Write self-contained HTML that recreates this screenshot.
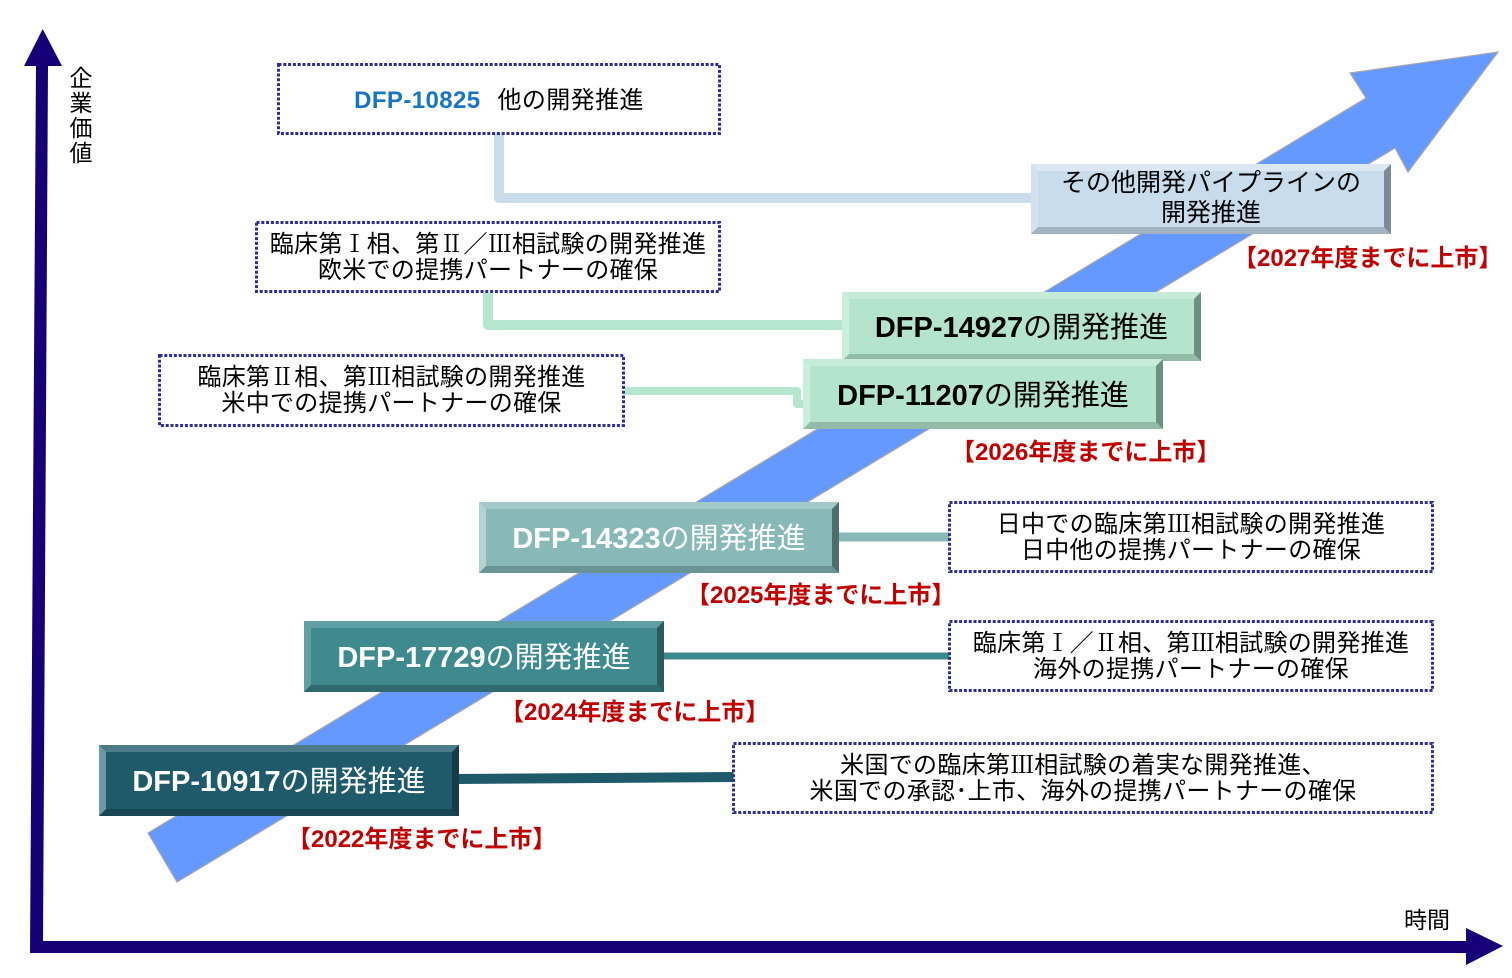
<!DOCTYPE html>
<html>
<head>
<meta charset="utf-8">
<style>
  html,body{margin:0;padding:0;background:#fff;}
  body{width:1512px;height:978px;position:relative;overflow:hidden;
       font-family:"Liberation Sans","Noto Sans CJK JP",sans-serif;}
  .abs{position:absolute;}
  .txt{position:absolute;display:flex;align-items:center;justify-content:center;
       text-align:center;white-space:nowrap;color:#000;}
  .dot{font-size:24px;line-height:26px;letter-spacing:0.3px;}
  .dot > div{margin-top:-2px;}
  .r{display:inline-block;width:24px;text-align:center;letter-spacing:0;
     font-family:"Noto Serif CJK SC","Noto Serif CJK JP","Liberation Serif",serif;}
  .bev{position:absolute;box-sizing:border-box;border-style:solid;border-width:7px;
       display:flex;align-items:center;justify-content:center;white-space:nowrap;
       font-size:29px;}
  .bev > div{margin-top:-3px;}
  .bev b{font-weight:bold;}
  .bev span{font-weight:normal;}
  .red{position:absolute;width:254px;text-align:center;color:#c00000;font-weight:bold;
       font-size:24px;line-height:30px;white-space:nowrap;}
</style>
</head>
<body>

<svg class="abs" style="left:0;top:0" width="1512" height="978" viewBox="0 0 1512 978">
  <!-- big blue arrow -->
  <polygon points="148,833 1366,98 1350,73 1498,52 1408,172 1395,148 177,882"
           fill="#6699ff" stroke="#a8a8a8" stroke-width="1.2" stroke-linejoin="miter"/>

  <!-- connectors -->
  <path d="M499,134 V198 H1034" fill="none" stroke="#c9dcec" stroke-width="10" stroke-linejoin="round"/>
  <path d="M488,293 V325 H845" fill="none" stroke="#b7e6cf" stroke-width="10" stroke-linejoin="round"/>
  <path d="M625,391 H797 V404 H805" fill="none" stroke="#b7e6cf" stroke-width="8" stroke-linejoin="round"/>
  <path d="M837,537 H950" fill="none" stroke="#88b8b8" stroke-width="9"/>
  <path d="M662,656 H950" fill="none" stroke="#3e8a8e" stroke-width="7"/>
  <path d="M457,779 L734,777" fill="none" stroke="#1f5a6b" stroke-width="10"/>

  <!-- dotted boxes -->
  <g fill="#fff" stroke="#2e2e96" stroke-width="3" stroke-dasharray="3 1.8">
    <rect x="278.5" y="64.5" width="441" height="69"/>
    <rect x="256.5" y="222.5" width="463" height="69"/>
    <rect x="159.5" y="355.5" width="464" height="70"/>
    <rect x="949.5" y="502.5" width="483" height="69"/>
    <rect x="949.5" y="621.5" width="483" height="69"/>
    <rect x="733.5" y="743.5" width="699" height="69"/>
  </g>

  <!-- axes -->
  <g fill="#150078">
    <polygon points="36,66 48,66 43,941 1466,941 1466,953 30,953"/>
    <polygon points="42.7,29 24,66 62,66"/>
    <polygon points="1466,928 1503,946 1466,965"/>
  </g>
</svg>

<!-- axis labels -->
<div class="abs" style="left:69px;top:66px;width:24px;font-size:23px;line-height:25px;text-align:center;color:#000;">企<br>業<br>価<br>値</div>
<div class="abs" style="left:1404px;top:906px;font-size:23px;line-height:28px;color:#000;white-space:nowrap;">時間</div>

<!-- dotted box texts -->
<div class="txt" style="left:277px;top:63px;width:444px;height:71px;font-size:24px;letter-spacing:0.4px;">
  <div style="margin-top:-3px"><span style="color:#1a74c6;font-weight:bold;">DFP-10825</span><span style="display:inline-block;width:17px"></span><span>他の開発推進</span></div>
</div>
<div class="txt dot" style="left:255px;top:221px;width:466px;height:72px;"><div>臨床第<span class="r">Ⅰ</span>相、第<span class="r">Ⅱ</span>／<span class="r">Ⅲ</span>相試験の開発推進<br>欧米での提携パートナーの確保</div></div>
<div class="txt dot" style="left:158px;top:354px;width:467px;height:73px;"><div>臨床第<span class="r">Ⅱ</span>相、第<span class="r">Ⅲ</span>相試験の開発推進<br>米中での提携パートナーの確保</div></div>
<div class="txt dot" style="left:948px;top:501px;width:486px;height:72px;"><div>日中での臨床第<span class="r">Ⅲ</span>相試験の開発推進<br>日中他の提携パートナーの確保</div></div>
<div class="txt dot" style="left:948px;top:620px;width:486px;height:72px;"><div>臨床第<span class="r">Ⅰ</span>／<span class="r">Ⅱ</span>相、第<span class="r">Ⅲ</span>相試験の開発推進<br>海外の提携パートナーの確保</div></div>
<div class="txt dot" style="left:732px;top:742px;width:702px;height:72px;"><div>米国での臨床第<span class="r">Ⅲ</span>相試験の着実な開発推進、<br>米国での承認･上市、海外の提携パートナーの確保</div></div>

<!-- bevel boxes -->
<div class="bev" style="left:1031px;top:164px;width:360px;height:70px;background:#c9dcec;
  border-color:#dbe7f2 #7c8a97 #a3b2bf #d4e2ee;font-size:25px;line-height:30px;text-align:center;color:#000;">
  <div>その他開発パイプラインの<br>開発推進</div></div>

<div class="bev" style="left:842px;top:292px;width:359px;height:69px;background:#b4e4cc;
  border-color:#c6ecd9 #6e9080 #93bba7 #caefdc;color:#000;">
  <div><b>DFP-14927</b><span>の開発推進</span></div></div>

<div class="bev" style="left:803px;top:359px;width:360px;height:70px;background:#b4e4cc;
  border-color:#c6ecd9 #6e9080 #93bba7 #caefdc;color:#000;">
  <div><b>DFP-11207</b><span>の開発推進</span></div></div>

<div class="bev" style="left:479px;top:502px;width:360px;height:71px;background:#88b8b8;
  border-color:#a3c9c9 #4e6e6e #6a9494 #b2d3d3;color:#fff;">
  <div><b>DFP-14323</b><span>の開発推進</span></div></div>

<div class="bev" style="left:304px;top:621px;width:360px;height:71px;background:#3e8a8e;
  border-color:#5f9ea2 #2a5c5e #2f6a6e #629fa3;color:#fff;">
  <div><b>DFP-17729</b><span>の開発推進</span></div></div>

<div class="bev" style="left:99px;top:745px;width:360px;height:71px;background:#1f5a6b;
  border-color:#4c7c8a #163c48 #1a4654 #6e98a4;color:#fff;">
  <div><b>DFP-10917</b><span>の開発推進</span></div></div>

<!-- red launch labels -->
<div class="red" style="left:1233px;top:244px;">【2027年度までに上市】</div>
<div class="red" style="left:951px;top:438px;">【2026年度までに上市】</div>
<div class="red" style="left:686px;top:581px;">【2025年度までに上市】</div>
<div class="red" style="left:500px;top:698px;">【2024年度までに上市】</div>
<div class="red" style="left:287px;top:825px;">【2022年度までに上市】</div>

</body>
</html>
